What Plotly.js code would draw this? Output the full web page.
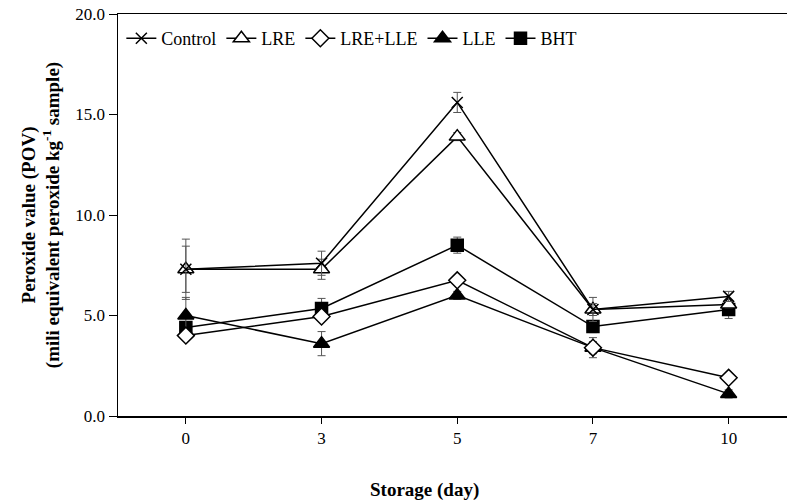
<!DOCTYPE html>
<html>
<head>
<meta charset="utf-8">
<script src="https://cdn.plot.ly/plotly-3.0.1.min.js"></script>
<style>html,body{margin:0;padding:0;background:#fff;}#chart{width:787px;height:502px;}</style>
</head>
<body>
<div id="chart"></div>
<script>
const days = ["0", "3", "5", "7", "10"];
const seriesNames = ["Control", "LRE", "LRE+LLE", "LLE", "BHT"];
const control = [7.3, 7.6, 15.6, 5.3, 5.95];
const controlErr = [1.5, 0.6, 0.5, 0.3, 0.25];
const lre = [7.3, 7.3, 13.9, 5.3, 5.55];
const lreErr = [1.15, 0.5, 0.2, 0.6, 0.2];
const lreLle = [4.0, 4.95, 6.75, 3.4, 1.9];
const lreLleErr = [0.2, 0.2, 0.2, 0.3, 0.1];
const lle = [5.0, 3.6, 6.0, 3.4, 1.1];
const lleErr = [0.9, 0.6, 0.2, 0.5, 0.2];
const bht = [4.4, 5.35, 8.5, 4.45, 5.3];
const bhtErr = [0.3, 0.5, 0.4, 0.3, 0.45];

const font = "'Times New Roman', 'Liberation Serif', serif";
function mk(name, y, err, symbol, size, fill) {
  return {
    x: days, y: y, name: name, type: "scatter", mode: "lines+markers",
    line: {color: "#000", width: 1.5},
    marker: {symbol: symbol, size: size, color: fill, line: {color: "#000", width: 1.5}},
    error_y: {type: "data", array: err, visible: true, color: "#555", thickness: 1, width: 4}
  };
}
const data = [
  mk(seriesNames[4], bht, bhtErr, "square", 12, "#000"),
  mk(seriesNames[3], lle, lleErr, "triangle-up", 14, "#000"),
  mk(seriesNames[2], lreLle, lreLleErr, "diamond", 13, "#fff"),
  mk(seriesNames[1], lre, lreErr, "triangle-up", 14, "#fff"),
  mk(seriesNames[0], control, controlErr, "x-thin-open", 11, "#000")
];
const layout = {
  width: 787, height: 502,
  margin: {l: 118, r: 0, t: 14, b: 86},
  paper_bgcolor: "#fff", plot_bgcolor: "#fff",
  font: {family: font, color: "#000", size: 16},
  showlegend: true,
  legend: {orientation: "h", x: 0.005, y: 0.985, xanchor: "left", yanchor: "top",
           traceorder: "reversed", font: {family: font, size: 18, color: "#000"}, bgcolor: "rgba(0,0,0,0)",
           itemwidth: 30},
  xaxis: {type: "category", range: [-0.5, 4.43], showline: true, linecolor: "#000", linewidth: 1.5,
          mirror: true, ticks: "outside", ticklen: 6, tickcolor: "#000", showgrid: false, zeroline: false,
          tickfont: {family: font, size: 17, color: "#000"}},
  yaxis: {range: [0, 20], tickvals: [0, 5, 10, 15, 20], tickformat: ".1f", showline: true,
          linecolor: "#000", linewidth: 1.5, ticks: "outside", ticklen: 8, tickcolor: "#000",
          showgrid: false, zeroline: false, tickfont: {family: font, size: 17, color: "#000"},
          title: {text: "<b>Peroxide value (POV)</b><br><b>(mili equivalent peroxide kg<sup>-1</sup> sample)</b>",
                  font: {family: font, size: 19, color: "#000"}, standoff: 10}},
  annotations: [{text: "<b>Storage (day)</b>", xref: "paper", yref: "paper", x: (424 - 118) / 669,
                 y: 0, yshift: -74, showarrow: false, font: {family: font, size: 19, color: "#000"},
                 xanchor: "center", yanchor: "middle"}]
};
Plotly.newPlot("chart", data, layout, {displayModeBar: false, staticPlot: true});
</script>
</body>
</html>
